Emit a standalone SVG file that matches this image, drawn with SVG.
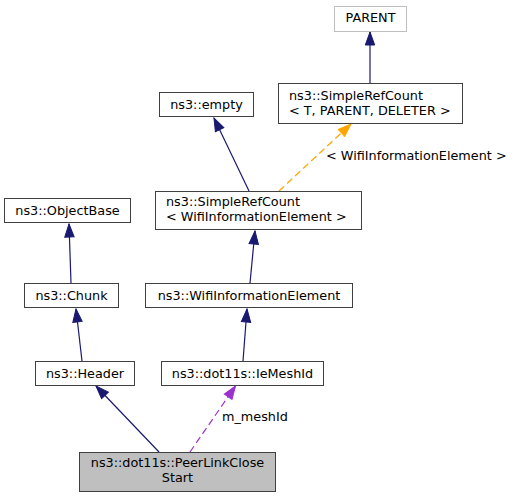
<svg xmlns="http://www.w3.org/2000/svg" width="516" height="499" viewBox="0 0 516 499">
<style>
text{font-family:"DejaVu Sans","Liberation Sans",sans-serif;font-size:12.8px;fill:#000}
.c{text-anchor:middle}
.box{fill:#fff;stroke:#404040;stroke-width:1}
.e{fill:none;stroke-width:1.2}
.n{stroke:#191970}
.p{stroke:#9a32cd;stroke-dasharray:7,4}
.o{stroke:#ffa500;stroke-dasharray:7,4}
</style>
<defs>
<marker id="an" markerUnits="userSpaceOnUse" markerWidth="16" markerHeight="12" refX="13" refY="5" orient="auto" overflow="visible"><path d="M0,0.3 L13,5 L0,9.7 z" fill="#191970" stroke="#191970" stroke-width="1"/></marker>
<marker id="ap" markerUnits="userSpaceOnUse" markerWidth="16" markerHeight="12" refX="13" refY="5" orient="auto" overflow="visible"><path d="M0,0.3 L13,5 L0,9.7 z" fill="#9a32cd" stroke="#9a32cd" stroke-width="1"/></marker>
<marker id="ao" markerUnits="userSpaceOnUse" markerWidth="16" markerHeight="12" refX="13" refY="5" orient="auto" overflow="visible"><path d="M0,0.3 L13,5 L0,9.7 z" fill="#ffa500" stroke="#ffa500" stroke-width="1"/></marker>
</defs>
<g id="connectors">
<line class="e n" x1="71" y1="283" x2="69" y2="224" marker-end="url(#an)"/>
<line class="e n" x1="82" y1="361" x2="76" y2="309" marker-end="url(#an)"/>
<line class="e n" x1="159" y1="452" x2="96" y2="386" marker-end="url(#an)"/>
<line class="e p" x1="190" y1="452" x2="235.5" y2="386" marker-end="url(#ap)"/>
<text x="222" y="421">m_meshId</text>
<line class="e n" x1="243" y1="361" x2="247" y2="309" marker-end="url(#an)"/>
<line class="e n" x1="250" y1="283" x2="255" y2="231" marker-end="url(#an)"/>
<line class="e n" x1="249" y1="191" x2="214" y2="118" marker-end="url(#an)"/>
<line class="e o" x1="279" y1="191" x2="351" y2="124" marker-end="url(#ao)"/>
<text x="326" y="160">&lt; WifiInformationElement &gt;</text>
<line class="e n" x1="370" y1="83" x2="370" y2="32" marker-end="url(#an)"/>
</g>
<g id="node-main">
<rect x="79.5" y="452.5" width="196" height="39" fill="#bfbfbf" stroke="#404040" stroke-width="1"/>
<text class="c" x="177.5" y="467">ns3::dot11s::PeerLinkClose</text>
<text class="c" x="177.5" y="482">Start</text>
</g>
<g id="node-header">
<rect class="box" x="35.5" y="361.5" width="99" height="24"/>
<text class="c" x="85" y="377.5">ns3::Header</text>
</g>
<g id="node-chunk">
<rect class="box" x="24.5" y="283.5" width="94" height="24"/>
<text class="c" x="71.5" y="299.5">ns3::Chunk</text>
</g>
<g id="node-objectbase">
<rect class="box" x="4.5" y="198.5" width="126" height="24"/>
<text class="c" x="67.5" y="214.5">ns3::ObjectBase</text>
</g>
<g id="node-iemeshid">
<rect class="box" x="161.5" y="361.5" width="162" height="24"/>
<text class="c" x="242.5" y="377.5">ns3::dot11s::IeMeshId</text>
</g>
<g id="node-wifiie">
<rect class="box" x="145.5" y="283.5" width="207" height="24"/>
<text class="c" x="249" y="299.5">ns3::WifiInformationElement</text>
</g>
<g id="node-srcwifi">
<rect class="box" x="155.5" y="191.5" width="206" height="38"/>
<text x="166" y="206">ns3::SimpleRefCount</text>
<text x="166" y="221">&lt; WifiInformationElement &gt;</text>
</g>
<g id="node-empty">
<rect class="box" x="159.5" y="92.5" width="94" height="24"/>
<text class="c" x="206.5" y="108.5">ns3::empty</text>
</g>
<g id="node-srct">
<rect class="box" x="278.5" y="83.5" width="184" height="40"/>
<text x="289" y="99.5">ns3::SimpleRefCount</text>
<text x="289" y="114.5">&lt; T, PARENT, DELETER &gt;</text>
</g>
<g id="node-parent">
<rect x="334.5" y="6.5" width="72" height="25" fill="#fff" stroke="#bfbfbf" stroke-width="1"/>
<text class="c" x="370.5" y="22">PARENT</text>
</g>
</svg>
